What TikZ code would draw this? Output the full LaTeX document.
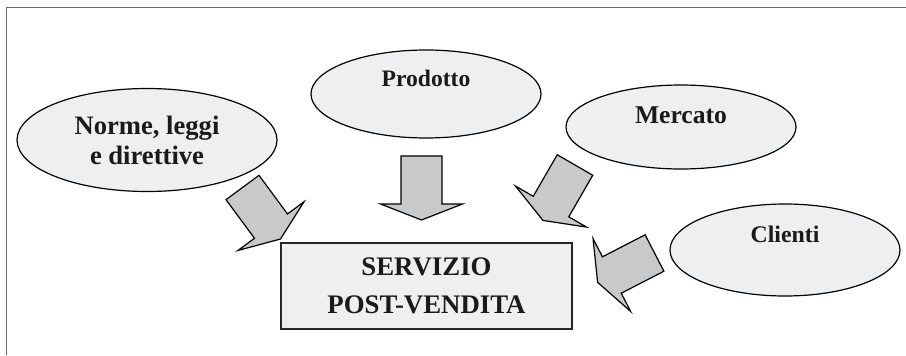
\documentclass[tikz,border=0pt]{standalone}
\usepackage{fontspec}
\setmainfont{Liberation Serif}
\usetikzlibrary{shapes.geometric, positioning}
\definecolor{cfill}{HTML}{EEEFF1}
\definecolor{carrow}{HTML}{C8C9CB}
\definecolor{cframe}{HTML}{6A6A6A}
\definecolor{ctext}{HTML}{1A1A1A}

\begin{document}
\begin{tikzpicture}[
    x=0.5pt, y=0.5pt,
    oval/.style={ellipse, draw, line width=0.6pt, fill=cfill, inner sep=0pt, minimum width=115pt, minimum height=#1, align=center, text=ctext},
    oval/.default=44pt,
    srvbox/.style={draw=black!85, line width=0.7pt, fill=cfill, minimum width=145.5pt, minimum height=43pt, align=center, text=ctext, font=\fontsize{13.4}{19}\selectfont\bfseries},
    bigarrow/.pic={\draw[fill=carrow, line width=0.6pt, line join=miter] (0,-20.5) -- (48,-20.5) -- (48,-41) -- (64,0) -- (48,41) -- (48,20.5) -- (0,20.5) -- cycle;}
]
\useasboundingbox (0,0) rectangle (906,355);
\draw[cframe, line width=0.75pt] (6.5,0) |- (906,347.5);

\node[oval=51.5pt, minimum width=130pt, font=\fontsize{13.3}{15}\selectfont\bfseries] (norme) at (147,215) {Norme, leggi\\e direttive};
\node[oval=44pt, text height=0pt, text depth=8pt, font=\fontsize{11.8}{14}\selectfont\bfseries] (prod) at (426,261) {Prodotto};
\node[oval=42pt, text height=0pt, text depth=4pt, font=\fontsize{12.8}{15}\selectfont\bfseries] (merc) at (681,228) {Mercato};
\node[oval=46pt, text height=0pt, text depth=8pt, font=\fontsize{11.9}{14}\selectfont\bfseries] (cli) at (785,105) {Clienti};
\node[srvbox] (srv) at (426.5,69) {SERVIZIO\\POST-VENDITA};

\pic[rotate=-53.6] at (242.5,167.5) {bigarrow};
\pic[rotate=-90] at (421.5,199) {bigarrow};
\pic[rotate=-120] at (575,190) {bigarrow};
\pic[rotate=-152.7] at (654.5,102) {bigarrow};

\end{tikzpicture}
\end{document}
